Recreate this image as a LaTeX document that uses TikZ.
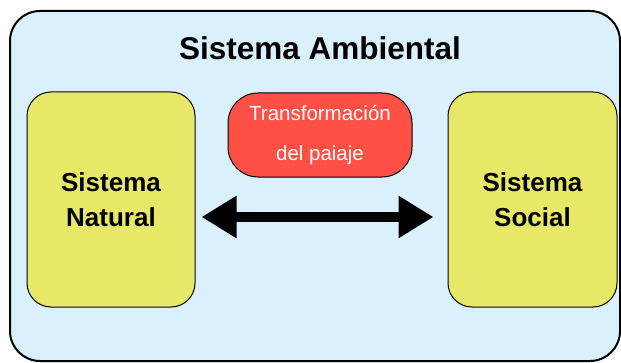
\documentclass[tikz,border=0pt]{standalone}
\usepackage{fontspec}
\setmainfont{Liberation Sans}
\usetikzlibrary{arrows.meta}
\definecolor{skyfill}{RGB}{218,240,252}
\definecolor{yelfill}{RGB}{232,232,104}
\definecolor{redfill}{RGB}{255,80,70}
\tikzset{
  sysbox/.style={draw=black, line width=1pt, fill=yelfill, rounded corners=24pt,
    minimum width=168pt, minimum height=215pt, align=center,
    font=\fontsize{26}{35}\selectfont\bfseries, inner sep=0pt},
  transbox/.style={draw=black, line width=1pt, fill=redfill, rounded corners=30pt,
    minimum width=184pt, minimum height=84pt, align=center, text=white,
    font=\fontsize{20.5}{40}\selectfont, inner sep=0pt},
  bigarrow/.style={line width=10pt, {Triangle[length=35pt,width=40pt]}-{Triangle[length=35pt,width=40pt]}}
}
\begin{document}
\begin{tikzpicture}[x=1pt,y=1pt]
\useasboundingbox (0,0) rectangle (621,362);
\node[draw=black, line width=2pt, fill=skyfill, rounded corners=30pt,
  minimum width=610pt, minimum height=350pt, inner sep=0pt] (amb) at (315,176) {};
\node[font=\fontsize{31.5}{36}\selectfont\bfseries] (title) at (320,314) {Sistema Ambiental};
\node[sysbox] (nat) at (111,162.5) {Sistema\\Natural};
\node[sysbox, minimum width=169pt] (soc) at (532.5,162.5) {Sistema\\Social};
\node[transbox] (tr) at (320,227) {Transformación\\del paiaje};
\draw[bigarrow, shorten <=6pt, shorten >=14pt] ([yshift=-17.5pt]nat.east) -- ([yshift=-17.5pt]soc.west);
\end{tikzpicture}
\end{document}
